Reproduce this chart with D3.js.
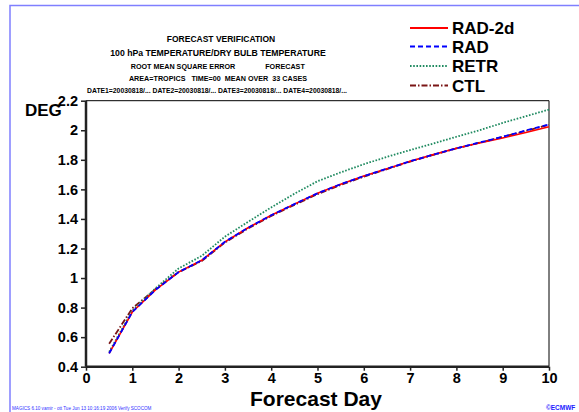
<!DOCTYPE html>
<html><head><meta charset="utf-8">
<script src="https://cdn.jsdelivr.net/npm/d3@7"></script>
<style>body{margin:0;background:#fff}svg{display:block;font-family:"Liberation Sans",Arial,sans-serif}</style>
</head><body>
<svg id="c" width="579" height="412"></svg>
<script>
const days   = [0.5,1,1.5,2,2.5,3,3.5,4,4.5,5,5.5,6,6.5,7,7.5,8,8.5,9,9.5,10];
const rad2d  = [0.49,0.77,0.92,1.04,1.12,1.245,1.34,1.425,1.50,1.573,1.635,1.69,1.74,1.79,1.835,1.878,1.914,1.948,1.985,2.024];
const rad    = [0.49,0.77,0.92,1.04,1.12,1.245,1.34,1.425,1.50,1.573,1.635,1.69,1.74,1.79,1.835,1.878,1.917,1.956,1.998,2.04];
const retr   = [0.50,0.78,0.93,1.065,1.15,1.28,1.38,1.478,1.57,1.655,1.715,1.77,1.82,1.866,1.91,1.956,2.0,2.05,2.095,2.14];
const ctl    = [0.555,0.795,0.925,1.04,1.115,1.24,1.335,1.42,1.495,1.568,1.63,1.686,1.737,1.788,1.833,1.877,1.916,1.955,1.996,2.037];
const seriesNames = ["RAD-2d","RAD","RETR","CTL"];
const xTicks = [0,1,2,3,4,5,6,7,8,9,10];
const yTicks = [0.4,0.6,0.8,1,1.2,1.4,1.6,1.8,2,2.2];
const titleLines = ["FORECAST VERIFICATION","100 hPa TEMPERATURE/DRY BULB TEMPERATURE","ROOT MEAN SQUARE ERROR","FORECAST","AREA=TROPICS   TIME=00  MEAN OVER  33 CASES","DATE1=20030818/... DATE2=20030818/... DATE3=20030818/... DATE4=20030818/..."];

const svg = d3.select("#c");
const L=86, R=549, T=100.7, B=366.7;
const x = d3.scaleLinear().domain([0,10]).range([L,R]);
const y = d3.scaleLinear().domain([0.4,2.2]).range([B,T]);

// page frame
svg.append("path").attr("d","M10,412V5.5H579").attr("fill","none").attr("stroke","#7f7fff").attr("stroke-width",1.5);

// titles
const tX=[221,218,183,285,218,217], tY=[39,53,66,66,78,90], tS=[8.5,8.7,7.2,7.2,7.2,6.8];
titleLines.forEach((t,i)=>svg.append("text").attr("x",tX[i]).attr("y",tY[i]+3).attr("text-anchor","middle")
  .attr("font-size",tS[i]).attr("font-weight","bold").style("white-space","pre").text(t));

// frame top/right thin
svg.append("path").attr("d",`M${L},${T}H${R}V${B}`).attr("fill","none").attr("stroke","#000").attr("stroke-width",1);

// axes
const ya = svg.append("g").attr("transform",`translate(${L},0)`).call(d3.axisLeft(y).tickValues(yTicks).tickSize(5).tickPadding(3).tickFormat(d3.format("~g")));
const xa = svg.append("g").attr("transform",`translate(0,${B})`).call(d3.axisBottom(x).tickValues(xTicks).tickSize(4).tickPadding(2).tickFormat(d3.format("d")));
[ya,xa].forEach(a=>{a.select(".domain").attr("stroke","#222").attr("stroke-width",2.5);
  a.selectAll(".tick line").attr("stroke","#222").attr("stroke-width",1.5);
  a.selectAll("text").attr("font-size",14.5).attr("font-weight","bold").attr("fill","#000").style("font-family","'Liberation Sans',Arial,sans-serif");});
ya.select(".domain").attr("d",`M-0,${B}V${T}`);
xa.select(".domain").attr("d",`M${L},0H${R}`);

svg.append("text").attr("x",25).attr("y",116).attr("font-size",17).attr("font-weight","bold").text("DEG");
svg.append("text").attr("x",316).attr("y",406).attr("text-anchor","middle").attr("font-size",21).attr("font-weight","bold").text("Forecast Day");

// series
const data = [rad2d,rad,retr,ctl];
const colors = ["#ff0000","#0000ff","#1f8a60","#7a1515"];
const dashes = [null,"5,3","1.6,1.6","6,2,1.5,2"];
const line = d3.line().x((d,i)=>x(days[i])).y(d=>y(d));
const order=[3,2,0,1];
order.forEach(k=>svg.append("path").datum(data[k]).attr("d",line).attr("fill","none").attr("stroke",colors[k])
  .attr("stroke-width",k==0?1.6:1.8).attr("stroke-dasharray",dashes[k]));

// legend
const ly=[28,46.5,66,85.5];
seriesNames.forEach((n,k)=>{
  svg.append("line").attr("x1",410).attr("x2",448).attr("y1",ly[k]).attr("y2",ly[k]).attr("stroke",colors[k]).attr("stroke-width",2).attr("stroke-dasharray",dashes[k]);
  svg.append("text").attr("x",452).attr("y",ly[k]+6).attr("font-size",17).attr("font-weight","bold").text(n);
});

// footer
svg.append("text").attr("x",12).attr("y",410).attr("font-size",4.6).attr("fill","#3030ff").text("MAGICS 6.10 vamir - ott Tue Jun 13 10:16:19 2006 Verify SCOCOM");
svg.append("text").attr("x",546).attr("y",410).attr("font-size",6.5).attr("font-weight","bold").attr("fill","#2020ff").text("©ECMWF");
</script>
</body></html>
